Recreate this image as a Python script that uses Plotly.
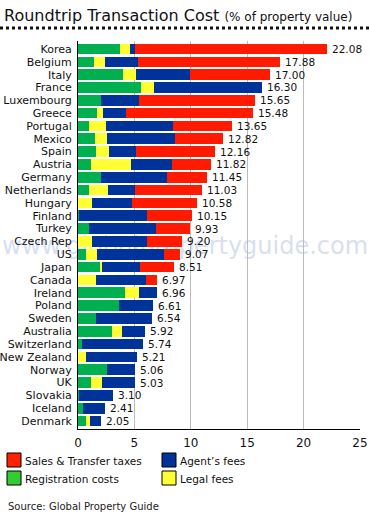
import plotly.graph_objects as go

countries = ["Korea", "Belgium", "Italy", "France", "Luxembourg", "Greece", "Portugal",
             "Mexico", "Spain", "Austria", "Germany", "Netherlands", "Hungary", "Finland",
             "Turkey", "Czech Rep", "US", "Japan", "Canada", "Ireland", "Poland", "Sweden",
             "Australia", "Switzerland", "New Zealand", "Norway", "UK", "Slovakia",
             "Iceland", "Denmark"]
totals = [22.08, 17.88, 17.00, 16.30, 15.65, 15.48, 13.65, 12.82, 12.16, 11.82, 11.45,
          11.03, 10.58, 10.15, 9.93, 9.20, 9.07, 8.51, 6.97, 6.96, 6.61, 6.54, 5.92, 5.74,
          5.21, 5.06, 5.03, 3.10, 2.41, 2.05]
registration = [3.68, 1.41, 4.00, 5.59, 2.00, 1.68, 0.97, 1.53, 1.56, 1.15, 2.00, 1.00, 0,
                0.12, 0.94, 0, 0.68, 2.03, 0, 4.21, 3.62, 1.56, 3.03, 0.38, 0, 2.59, 1.12,
                0.12, 0.41, 0.71]
legal = [0.97, 0.97, 1.18, 1.12, 0, 0.58, 1.47, 1.03, 1.15, 3.59, 0, 1.68, 1.24, 0, 0,
         1.20, 0.97, 0.12, 1.56, 1.17, 0, 0, 0.91, 0, 0.74, 0, 0.97, 0, 0, 0.35]
agent = [0.41, 2.97, 4.76, 9.59, 3.41, 2.00, 6.00, 6.06, 2.44, 3.55, 5.91, 2.35, 3.58,
         6.03, 5.97, 4.95, 5.97, 3.35, 4.50, 1.58, 2.99, 4.98, 1.98, 5.36, 4.47, 2.47,
         2.94, 2.98, 2.00, 0.99]
sales = [17.02, 12.53, 7.06, 0, 10.24, 11.22, 5.21, 4.20, 7.01, 3.53, 3.54, 6.00, 5.76,
         4.00, 3.02, 3.05, 1.45, 3.01, 0.91, 0, 0, 0, 0, 0, 0, 0, 0, 0, 0, 0]
x_ticks = [0, 5, 10, 15, 20, 25]

FONT = "DejaVu Sans"
W, H = 370, 513
L, R, T, B = 78, 10, 41, 84
PW, PH = W - L - R, H - T - B


def px(x):
    return (x - L) / PW


def py(y):
    return (H - B - y) / PH


fig = go.Figure()
series = [
    ("Registration costs", registration, "#00b050"),
    ("Legal fees", legal, "#ffff33"),
    ("Agent’s fees", agent, "#003399"),
    ("Sales & Transfer taxes", sales, "#ff1a00"),
]
for name, vals, col in series:
    fig.add_trace(go.Bar(y=countries, x=vals, orientation="h", name=name,
                         marker=dict(color=col, line=dict(width=0)), showlegend=False))

shapes = [
    # dotted title rule
    dict(type="line", xref="paper", yref="paper", x0=px(0), x1=px(370), y0=py(28), y1=py(28),
         line=dict(color="#111", width=3, dash="dot")),
    # watermark (behind bars)
    dict(type="rect", xref="paper", yref="paper", x0=px(0), x1=px(370), y0=py(259), y1=py(229),
         line=dict(width=0), fillcolor="rgba(0,0,0,0)", layer="below",
         label=dict(text="www.globalpropertyguide.com", textposition="middle center",
                    font=dict(family=FONT, size=24, color="#d8dff0"))),
]
annotations = [
    dict(xref="paper", yref="paper", x=px(2), y=py(15), xanchor="left", yanchor="middle",
         showarrow=False,
         text="Roundtrip Transaction Cost <span style='font-size:12px'>(% of property value)</span>",
         font=dict(family=FONT, size=16, color="#111")),
    dict(xref="paper", yref="paper", x=px(6), y=py(506), xanchor="left", yanchor="middle",
         showarrow=False, text="Source: Global Property Guide",
         font=dict(family=FONT, size=10, color="#222")),
]
for c, v in zip(countries, totals):
    annotations.append(dict(x=v, y=c, xref="x", yref="y", xanchor="left", yanchor="middle",
                            xshift=3, showarrow=False, text=f"{v:.2f}",
                            font=dict(family=FONT, size=10.5, color="#111")))

legend_items = [
    ("Sales & Transfer taxes", "#ff2200", 7, 453),
    ("Agent’s fees", "#003399", 162, 453),
    ("Registration costs", "#33cc33", 7, 471),
    ("Legal fees", "#ffff33", 162, 471),
]
for text, col, lx, ly in legend_items:
    shapes.append(dict(type="rect", xref="paper", yref="paper", x0=px(lx), x1=px(lx + 14),
                       y0=py(ly + 14), y1=py(ly), fillcolor=col,
                       line=dict(color="#000", width=1)))
    annotations.append(dict(xref="paper", yref="paper", x=px(lx + 16), y=py(ly + 7.5),
                            xanchor="left", yanchor="middle", showarrow=False, text=text,
                            font=dict(family=FONT, size=10.5, color="#111")))

fig.update_layout(
    width=W, height=H, barmode="stack", bargap=0.17,
    margin=dict(l=L, r=R, t=T, b=B, pad=0, autoexpand=False),
    paper_bgcolor="white", plot_bgcolor="white",
    font=dict(family=FONT, color="#111"),
    shapes=shapes, annotations=annotations,
    xaxis=dict(range=[0, 25], tickvals=x_ticks, ticktext=[str(t) for t in x_ticks],
               showgrid=True, gridcolor="#bcbcbc", gridwidth=1, zeroline=False,
               showline=True, linecolor="#000", linewidth=1, ticks="", automargin=False,
               ticklabelstandoff=3,
               tickfont=dict(family=FONT, size=12, color="#111"), fixedrange=True),
    yaxis=dict(autorange="reversed", showline=True, linecolor="#000", linewidth=1,
               ticks="", showgrid=False, ticklabelstandoff=3, automargin=False,
               tickmode="array", tickvals=countries, ticktext=countries,
               tickfont=dict(family=FONT, size=11, color="#111"), fixedrange=True),
)

fig.write_html(
    "out.html",
    config={"displayModeBar": False},
    post_script="document.body.style.margin='0';document.body.style.padding='0';"
                "document.documentElement.style.overflow='hidden';",
)
